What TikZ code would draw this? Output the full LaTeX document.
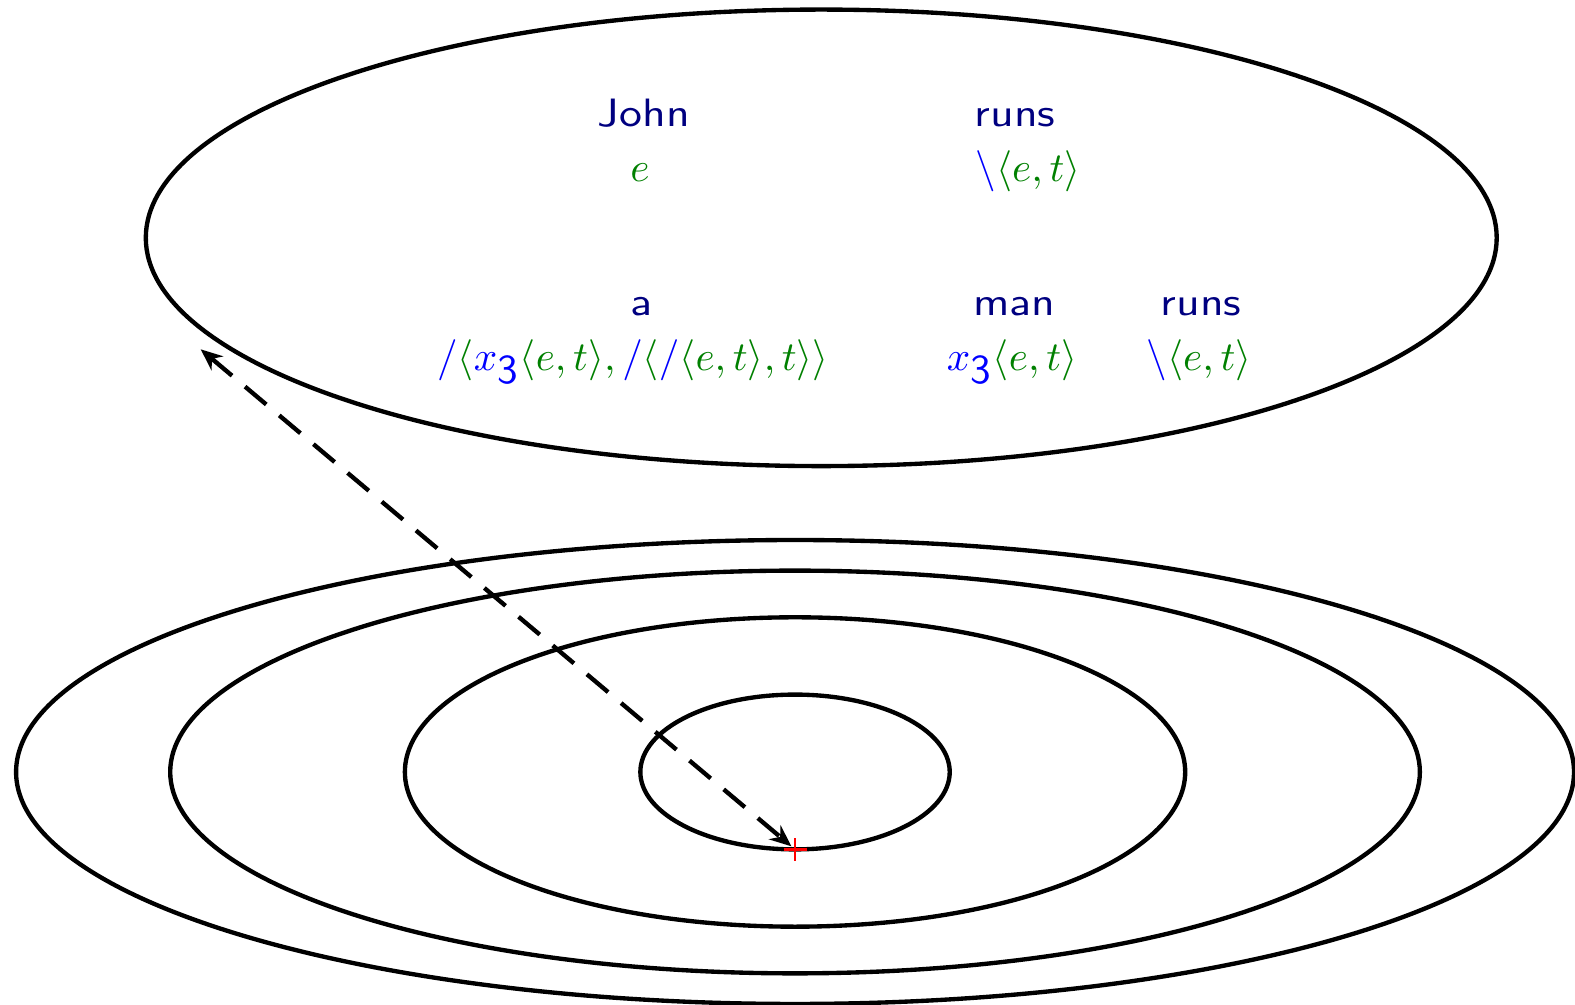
\documentclass[tikz,border=0pt]{standalone}
\usepackage{amsmath}
\usepackage{xcolor}
\usepackage{fontspec}
\usetikzlibrary{arrows.meta}
\definecolor{wordnavy}{HTML}{000080}
\definecolor{typegreen}{HTML}{008000}
\newfontfamily\wordfont{lmsans10-regular.otf}[FakeStretch=1.16]
\newcommand{\fsl}{\textcolor{blue}{/}}
\newcommand{\bsl}{\textcolor{blue}{\backslash}}
\newcommand{\xthree}{\textcolor{blue}{x_{\mbox{\sffamily 3}}}}

\begin{document}
\begin{tikzpicture}[
    line width=1.1pt,
    word/.style={anchor=base, text=wordnavy, font=\wordfont, inner sep=0pt},
    type/.style={anchor=base, text=typegreen, inner sep=0pt, scale=1.04, transform shape},
    pointer/.tip={Stealth[length=5.5pt, width=4.6pt]}
  ]
  \useasboundingbox (0,0) rectangle (14,-8.933);

  \draw (7.3,-2.114) ellipse (6.004 and 2.029);
  \node[word] (john) at (5.724,-1.126) {John};
  \node[type] (john-type) at (5.689,-1.615) {$e$};
  \node[word] (runs) at (9.022,-1.126) {runs};
  \node[type] (runs-type) at (9.138,-1.615) {$\bsl\langle e,t\rangle$};
  \node[word] (a) at (5.698,-2.8) {a};
  \node[type] (a-type) at (5.627,-3.289)
    {$\fsl\langle\xthree\langle e,t\rangle,\fsl\langle\fsl\langle e,t\rangle,t\rangle\rangle$};
  \node[word] (man) at (9.018,-2.8) {man};
  \node[type] (man-type) at (8.996,-3.289) {$\xthree\langle e,t\rangle$};
  \node[word] (runs2) at (10.676,-2.8) {runs};
  \node[type] (runs2-type) at (10.658,-3.289) {$\bsl\langle e,t\rangle$};

  \coordinate (model) at (7.067,-6.862);
  \draw (model) ellipse (6.924 and 2.062);
  \draw (model) ellipse (5.554 and 1.790);
  \draw (model) ellipse (3.468 and 1.375);
  \draw (model) ellipse (1.375 and 0.688);

  \coordinate (hit) at (7.067,-7.55);
  \coordinate (lex) at (1.784,-3.105);
  \draw[pointer-pointer, dash pattern=on 7pt off 4.3pt, shorten >=1.2pt] (lex) -- (hit);
  \draw[red, line width=0.6pt]
    ([xshift=-2.9pt]hit) -- ([xshift=2.9pt]hit)
    ([yshift=-2.9pt]hit) -- ([yshift=2.9pt]hit);
\end{tikzpicture}
\end{document}
